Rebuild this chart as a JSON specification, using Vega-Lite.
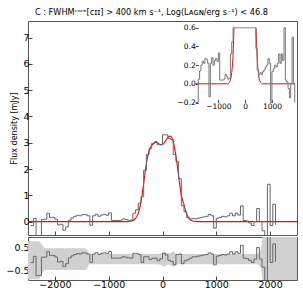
{
  "$schema": "https://vega.github.io/schema/vega-lite/v6.json",
  "autosize": {"type": "pad"},
  "padding": {"left": 5, "top": 8, "right": 3, "bottom": 5},
  "title": {"text": "C : FWHMᶜᵒʳᵉ[ᴄɪɪ] > 400 km s⁻¹, Log(Lᴀɢɴ/erg s⁻¹) < 46.8", "fontSize": 8.2, "fontWeight": "normal", "font": "DejaVu Sans", "offset": 3, "anchor": "middle", "color": "#000"},
  "datasets": {
    "spec": [
      {"v": -2450, "f": -0.15}, {"v": -2400, "f": 0.12}, {"v": -2350, "f": -0.72}, {"v": -2300, "f": -0.72},
      {"v": -2250, "f": 0.08}, {"v": -2200, "f": 0.09}, {"v": -2150, "f": 0.32}, {"v": -2100, "f": 0.16},
      {"v": -2050, "f": 0.16}, {"v": -2000, "f": 0.09}, {"v": -1950, "f": -0.13}, {"v": -1900, "f": -0.1},
      {"v": -1850, "f": -0.33}, {"v": -1800, "f": -0.2}, {"v": -1750, "f": 0.05}, {"v": -1700, "f": 0.14},
      {"v": -1650, "f": 0.2}, {"v": -1600, "f": 0.24}, {"v": -1550, "f": 0.22}, {"v": -1500, "f": 0.27},
      {"v": -1450, "f": 0.26}, {"v": -1400, "f": 0.22}, {"v": -1350, "f": -0.14}, {"v": -1300, "f": 0.22},
      {"v": -1250, "f": 0.28}, {"v": -1200, "f": 0.2}, {"v": -1150, "f": 0.25}, {"v": -1100, "f": 0.27},
      {"v": -1050, "f": 0.24}, {"v": -1000, "f": 0.33}, {"v": -950, "f": 0.04}, {"v": -900, "f": 0.04},
      {"v": -850, "f": 0.04}, {"v": -800, "f": 0.05}, {"v": -750, "f": 0.1}, {"v": -700, "f": 0.08},
      {"v": -650, "f": 0.05}, {"v": -600, "f": 0.06}, {"v": -550, "f": 0.32}, {"v": -500, "f": 0.45},
      {"v": -450, "f": 0.7}, {"v": -400, "f": 0.95}, {"v": -350, "f": 1.95}, {"v": -300, "f": 2.55},
      {"v": -250, "f": 2.78}, {"v": -200, "f": 2.98}, {"v": -150, "f": 3.04}, {"v": -100, "f": 2.93},
      {"v": -50, "f": 2.93}, {"v": 0, "f": 3.3}, {"v": 50, "f": 3.3}, {"v": 100, "f": 3.17},
      {"v": 150, "f": 3.12}, {"v": 200, "f": 2.55}, {"v": 250, "f": 2.28}, {"v": 300, "f": 1.63},
      {"v": 350, "f": 0.6}, {"v": 400, "f": 0.38}, {"v": 450, "f": 0.15}, {"v": 500, "f": 0.1},
      {"v": 550, "f": 0.12}, {"v": 600, "f": 0.1}, {"v": 650, "f": 0.13}, {"v": 700, "f": 0.15},
      {"v": 750, "f": 0.18}, {"v": 800, "f": 0.2}, {"v": 850, "f": 0.27}, {"v": 900, "f": 0.22},
      {"v": 950, "f": -0.25}, {"v": 1000, "f": 0.13}, {"v": 1050, "f": 0.16}, {"v": 1100, "f": 0.2},
      {"v": 1150, "f": 0.18}, {"v": 1200, "f": 0.22}, {"v": 1250, "f": 0.32}, {"v": 1300, "f": 0.22},
      {"v": 1350, "f": 0.32}, {"v": 1400, "f": 0.25}, {"v": 1450, "f": 0.6}, {"v": 1500, "f": 0.04},
      {"v": 1550, "f": 0.02}, {"v": 1600, "f": -0.05}, {"v": 1650, "f": -0.15}, {"v": 1700, "f": 0.0},
      {"v": 1750, "f": 0.5}, {"v": 1800, "f": 0.0}, {"v": 1850, "f": -0.35}, {"v": 1900, "f": -3.0},
      {"v": 1950, "f": 1.42}, {"v": 2000, "f": -0.15}, {"v": 2050, "f": 0.66}, {"v": 2100, "f": -0.12}
    ],
    "model": [
      {"v": -2500, "m": 0}, {"v": -650, "m": 0}, {"v": -600, "m": 0.01}, {"v": -550, "m": 0.04},
      {"v": -500, "m": 0.12}, {"v": -450, "m": 0.32}, {"v": -415, "m": 0.6}, {"v": -400, "m": 0.75},
      {"v": -350, "m": 1.45}, {"v": -300, "m": 2.2}, {"v": -250, "m": 2.68}, {"v": -200, "m": 2.9},
      {"v": -150, "m": 2.99}, {"v": -120, "m": 3.02}, {"v": -80, "m": 2.98}, {"v": -40, "m": 2.92},
      {"v": 0, "m": 2.93}, {"v": 40, "m": 3.02}, {"v": 80, "m": 3.15}, {"v": 120, "m": 3.24},
      {"v": 150, "m": 3.25}, {"v": 180, "m": 3.16}, {"v": 220, "m": 2.85}, {"v": 260, "m": 2.35},
      {"v": 300, "m": 1.72}, {"v": 350, "m": 1.0}, {"v": 400, "m": 0.64}, {"v": 405, "m": 0.6},
      {"v": 450, "m": 0.28}, {"v": 500, "m": 0.1}, {"v": 550, "m": 0.03}, {"v": 600, "m": 0.01},
      {"v": 650, "m": 0}, {"v": 2500, "m": 0}
    ],
    "resid": [
      {"v": -2450, "r": -0.15}, {"v": -2400, "r": 0.12}, {"v": -2350, "r": -0.72}, {"v": -2300, "r": -0.72},
      {"v": -2250, "r": 0.08}, {"v": -2200, "r": 0.09}, {"v": -2150, "r": 0.32}, {"v": -2100, "r": 0.16},
      {"v": -2050, "r": 0.16}, {"v": -2000, "r": 0.09}, {"v": -1950, "r": -0.13}, {"v": -1900, "r": -0.1},
      {"v": -1850, "r": -0.33}, {"v": -1800, "r": -0.2}, {"v": -1750, "r": 0.05}, {"v": -1700, "r": 0.14},
      {"v": -1650, "r": 0.2}, {"v": -1600, "r": 0.24}, {"v": -1550, "r": 0.22}, {"v": -1500, "r": 0.27},
      {"v": -1450, "r": 0.26}, {"v": -1400, "r": 0.22}, {"v": -1350, "r": -0.14}, {"v": -1300, "r": 0.22},
      {"v": -1250, "r": 0.28}, {"v": -1200, "r": 0.2}, {"v": -1150, "r": 0.25}, {"v": -1100, "r": 0.27},
      {"v": -1050, "r": 0.24}, {"v": -1000, "r": 0.33}, {"v": -950, "r": 0.04}, {"v": -900, "r": 0.04},
      {"v": -850, "r": 0.04}, {"v": -800, "r": 0.05}, {"v": -750, "r": 0.1}, {"v": -700, "r": 0.08},
      {"v": -650, "r": 0.05}, {"v": -600, "r": 0.04}, {"v": -550, "r": 0.25}, {"v": -500, "r": 0.25},
      {"v": -450, "r": 0.2}, {"v": -400, "r": -0.15}, {"v": -350, "r": 0.1}, {"v": -300, "r": 0.1},
      {"v": -250, "r": -0.02}, {"v": -200, "r": 0.03}, {"v": -150, "r": 0.04}, {"v": -100, "r": -0.07},
      {"v": -50, "r": 0.01}, {"v": 0, "r": 0.25}, {"v": 50, "r": 0.18}, {"v": 100, "r": -0.05},
      {"v": 150, "r": -0.1}, {"v": 200, "r": -0.25}, {"v": 250, "r": 0.2}, {"v": 300, "r": 0.22},
      {"v": 350, "r": -0.2}, {"v": 400, "r": -0.07}, {"v": 450, "r": -0.03}, {"v": 500, "r": 0.04},
      {"v": 550, "r": 0.1}, {"v": 600, "r": 0.1}, {"v": 650, "r": 0.13}, {"v": 700, "r": 0.15},
      {"v": 750, "r": 0.18}, {"v": 800, "r": 0.2}, {"v": 850, "r": 0.27}, {"v": 900, "r": 0.22},
      {"v": 950, "r": -0.25}, {"v": 1000, "r": 0.13}, {"v": 1050, "r": 0.16}, {"v": 1100, "r": 0.2},
      {"v": 1150, "r": 0.18}, {"v": 1200, "r": 0.22}, {"v": 1250, "r": 0.32}, {"v": 1300, "r": 0.22},
      {"v": 1350, "r": 0.32}, {"v": 1400, "r": 0.25}, {"v": 1450, "r": 0.6}, {"v": 1500, "r": 0.04},
      {"v": 1550, "r": 0.02}, {"v": 1600, "r": -0.05}, {"v": 1650, "r": -0.15}, {"v": 1700, "r": 0.0},
      {"v": 1750, "r": 0.5}, {"v": 1800, "r": 0.0}, {"v": 1850, "r": -0.35}, {"v": 1900, "r": -3.0},
      {"v": 1950, "r": 1.42}, {"v": 2000, "r": -0.15}, {"v": 2050, "r": 0.66}, {"v": 2100, "r": -0.12}
    ],
    "band": [
      {"v": -2500, "lo": -0.88, "hi": 0.78}, {"v": -2300, "lo": -0.88, "hi": 0.78},
      {"v": -2230, "lo": -0.6, "hi": 0.6}, {"v": -2180, "lo": -0.48, "hi": 0.47},
      {"v": -1450, "lo": -0.48, "hi": 0.47}, {"v": -1400, "lo": -0.4, "hi": 0.4},
      {"v": -1360, "lo": -0.22, "hi": 0.22}, {"v": -100, "lo": -0.22, "hi": 0.22},
      {"v": -30, "lo": -0.25, "hi": 0.25}, {"v": 30, "lo": -0.33, "hi": 0.33},
      {"v": 80, "lo": -0.25, "hi": 0.25}, {"v": 130, "lo": -0.25, "hi": 0.25},
      {"v": 200, "lo": -0.33, "hi": 0.33}, {"v": 260, "lo": -0.22, "hi": 0.22},
      {"v": 1760, "lo": -0.22, "hi": 0.22}, {"v": 1820, "lo": -0.35, "hi": 0.35},
      {"v": 1860, "lo": -0.9, "hi": 0.9}, {"v": 1900, "lo": -1.5, "hi": 1.5},
      {"v": 2500, "lo": -1.5, "hi": 1.5}
    ]
  },
  "vconcat": [
    {
      "width": 269,
      "height": 214,
      "layer": [
        {
          "layer": [
            {
              "mark": {"type": "rect", "color": "#c8c8c8", "clip": true},
              "encoding": {
                "x": {"datum": 2450, "type": "quantitative", "scale": {"domain": [-2500, 2500], "nice": false, "zero": false}, "axis": {"labels": false, "values": [-2000, -1000, 0, 1000, 2000], "title": null, "orient": "bottom"}},
                "x2": {"datum": 2500},
                "y": {"datum": -0.51, "type": "quantitative", "scale": {"domain": [-0.51, 7.63], "nice": false, "zero": false}, "axis": {"values": [0, 1, 2, 3, 4, 5, 6, 7], "format": "d", "title": "Flux density [mJy]", "orient": "left", "titleFontSize": 8, "titleFontWeight": "normal", "titlePadding": 4}},
                "y2": {"datum": 7.63}
              }
            },
            {
              "data": {"name": "model"},
              "mark": {"type": "line", "color": "#ff0000", "strokeWidth": 1.1, "interpolate": "monotone", "clip": true},
              "encoding": {
                "x": {"field": "v", "type": "quantitative", "scale": {"domain": [-2500, 2500], "nice": false, "zero": false}, "axis": {"labels": false, "values": [-2000, -1000, 0, 1000, 2000], "title": null, "orient": "bottom"}},
                "y": {"field": "m", "type": "quantitative", "scale": {"domain": [-0.51, 7.63], "nice": false, "zero": false}, "axis": {"values": [0, 1, 2, 3, 4, 5, 6, 7], "format": "d", "title": "Flux density [mJy]", "orient": "left", "titleFontSize": 8, "titleFontWeight": "normal", "titlePadding": 4}}
              }
            },
            {
              "mark": {"type": "rule", "color": "#5a4a4a", "strokeWidth": 1, "opacity": 0.9},
              "encoding": {"y": {"datum": 0, "type": "quantitative", "scale": {"domain": [-0.51, 7.63], "nice": false, "zero": false}, "axis": {"values": [0, 1, 2, 3, 4, 5, 6, 7], "format": "d", "title": "Flux density [mJy]", "orient": "left", "titleFontSize": 8, "titleFontWeight": "normal", "titlePadding": 4}}}
            },
            {
              "data": {"name": "spec"},
              "mark": {"type": "line", "color": "#666666", "strokeWidth": 1, "interpolate": "step-after", "clip": true},
              "encoding": {
                "x": {"field": "v", "type": "quantitative", "scale": {"domain": [-2500, 2500], "nice": false, "zero": false}, "axis": {"labels": false, "values": [-2000, -1000, 0, 1000, 2000], "title": null, "orient": "bottom"}},
                "y": {"field": "f", "type": "quantitative", "scale": {"domain": [-0.51, 7.63], "nice": false, "zero": false}, "axis": {"values": [0, 1, 2, 3, 4, 5, 6, 7], "format": "d", "title": "Flux density [mJy]", "orient": "left", "titleFontSize": 8, "titleFontWeight": "normal", "titlePadding": 4}}
              }
            }
          ]
        },
        {
          "layer": [
            {
              "mark": {"type": "rect", "fill": "#ffffff", "stroke": "#555555", "strokeWidth": 1},
              "encoding": {
                "x": {"datum": -1860, "type": "quantitative", "scale": {"domain": [-1860, 1860], "range": [167.3, 267], "nice": false, "zero": false, "clamp": true}, "axis": {"orient": "bottom", "offset": -132.5, "values": [-1000, 0, 1000], "format": "d", "labelFontSize": 7.5, "title": null, "tickSize": -3, "labelPadding": 3}},
                "x2": {"datum": 1860},
                "y": {"datum": -0.2, "type": "quantitative", "scale": {"domain": [-0.2, 0.6], "range": [81.5, 6.8], "nice": false, "zero": false, "clamp": true}, "axis": {"orient": "left", "offset": -167.3, "values": [-0.2, 0, 0.2, 0.4, 0.6], "format": ".1f", "labelFontSize": 7.5, "title": null, "tickSize": -3, "labelPadding": 3}},
                "y2": {"datum": 0.6}
              }
            },
            {
              "mark": {"type": "rule", "color": "#8a7070", "strokeWidth": 1},
              "encoding": {"x": {"datum": -1860, "type": "quantitative"}, "x2": {"datum": 1860}, "y": {"datum": 0, "type": "quantitative"}}
            },
            {
              "data": {"name": "model"},
              "transform": [{"filter": "datum.v < 0 && datum.m <= 0.6"}],
              "mark": {"type": "line", "color": "#ff0000", "strokeWidth": 1, "interpolate": "monotone"},
              "encoding": {"x": {"field": "v", "type": "quantitative"}, "y": {"field": "m", "type": "quantitative"}}
            },
            {
              "data": {"name": "model"},
              "transform": [{"filter": "datum.v > 0 && datum.m <= 0.6"}],
              "mark": {"type": "line", "color": "#ff0000", "strokeWidth": 1, "interpolate": "monotone"},
              "encoding": {"x": {"field": "v", "type": "quantitative"}, "y": {"field": "m", "type": "quantitative"}}
            },
            {
              "data": {"name": "spec"},
              "transform": [{"filter": "datum.v >= -1850 && datum.v <= 1850"}],
              "mark": {"type": "line", "color": "#777777", "strokeWidth": 1, "interpolate": "step-after"},
              "encoding": {"x": {"field": "v", "type": "quantitative"}, "y": {"field": "f", "type": "quantitative"}}
            }
          ]
        }
      ],
      "resolve": {"scale": {"x": "independent", "y": "independent"}, "axis": {"x": "independent", "y": "independent"}}
    },
    {
      "width": 269,
      "height": 43,
      "layer": [
        {
          "data": {"name": "band"},
          "mark": {"type": "area", "color": "#d0d0d0", "opacity": 1, "interpolate": "monotone", "clip": true},
          "encoding": {
            "x": {"field": "v", "type": "quantitative", "scale": {"domain": [-2500, 2500], "nice": false, "zero": false}, "axis": {"values": [-2000, -1000, 0, 1000, 2000], "format": "d", "title": null, "labelFontSize": 9.5}},
            "y": {"field": "lo", "type": "quantitative", "scale": {"domain": [-0.91, 0.96], "nice": false, "zero": false}, "axis": {"values": [-0.5, 0, 0.5], "format": ".1f", "title": null, "labelFontSize": 9.5}},
            "y2": {"field": "hi"}
          }
        },
        {
          "mark": {"type": "rule", "color": "#555555", "strokeWidth": 1},
          "encoding": {"y": {"datum": 0, "type": "quantitative"}}
        },
        {
          "data": {"name": "resid"},
          "mark": {"type": "line", "color": "#666666", "strokeWidth": 1, "interpolate": "step-after", "clip": true},
          "encoding": {"x": {"field": "v", "type": "quantitative"}, "y": {"field": "r", "type": "quantitative"}}
        }
      ]
    }
  ],
  "spacing": 0,
  "config": {
    "font": "DejaVu Sans",
    "view": {"stroke": "#555555", "strokeWidth": 1},
    "axis": {"domain": false, "grid": false, "tickSize": -4, "tickColor": "#444444", "labelPadding": 3, "labelColor": "#000000", "labelFontSize": 9.5, "labelFont": "DejaVu Sans", "titleFont": "DejaVu Sans", "titleColor": "#000000", "labelFlush": false, "labelOverlap": false}
  }
}
